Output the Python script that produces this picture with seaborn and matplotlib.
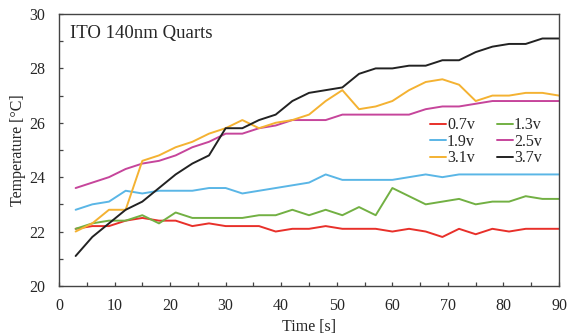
import numpy as np
import pandas as pd
import matplotlib
matplotlib.use("Agg")
import matplotlib.pyplot as plt
from matplotlib.ticker import MultipleLocator
import seaborn as sns

# Sampling times (s)
time_s = list(range(3, 91, 3))

# Temperature (°C) for each applied voltage
t_07 = [22.1, 22.2, 22.2, 22.4, 22.5, 22.4, 22.4, 22.2, 22.3, 22.2,
        22.2, 22.2, 22.0, 22.1, 22.1, 22.2, 22.1, 22.1, 22.1, 22.0,
        22.1, 22.0, 21.8, 22.1, 21.9, 22.1, 22.0, 22.1, 22.1, 22.1]
t_13 = [22.1, 22.3, 22.4, 22.4, 22.6, 22.3, 22.7, 22.5, 22.5, 22.5,
        22.5, 22.6, 22.6, 22.8, 22.6, 22.8, 22.6, 22.9, 22.6, 23.6,
        23.3, 23.0, 23.1, 23.2, 23.0, 23.1, 23.1, 23.3, 23.2, 23.2]
t_19 = [22.8, 23.0, 23.1, 23.5, 23.4, 23.5, 23.5, 23.5, 23.6, 23.6,
        23.4, 23.5, 23.6, 23.7, 23.8, 24.1, 23.9, 23.9, 23.9, 23.9,
        24.0, 24.1, 24.0, 24.1, 24.1, 24.1, 24.1, 24.1, 24.1, 24.1]
t_25 = [23.6, 23.8, 24.0, 24.3, 24.5, 24.6, 24.8, 25.1, 25.3, 25.6,
        25.6, 25.8, 25.9, 26.1, 26.1, 26.1, 26.3, 26.3, 26.3, 26.3,
        26.3, 26.5, 26.6, 26.6, 26.7, 26.8, 26.8, 26.8, 26.8, 26.8]
t_31 = [22.0, 22.3, 22.8, 22.8, 24.6, 24.8, 25.1, 25.3, 25.6, 25.8,
        26.1, 25.8, 26.0, 26.1, 26.3, 26.8, 27.2, 26.5, 26.6, 26.8,
        27.2, 27.5, 27.6, 27.4, 26.8, 27.0, 27.0, 27.1, 27.1, 27.0]
t_37 = [21.1, 21.8, 22.3, 22.8, 23.1, 23.6, 24.1, 24.5, 24.8, 25.8,
        25.8, 26.1, 26.3, 26.8, 27.1, 27.2, 27.3, 27.8, 28.0, 28.0,
        28.1, 28.1, 28.3, 28.3, 28.6, 28.8, 28.9, 28.9, 29.1, 29.1]

voltages = ["0.7v", "1.3v", "1.9v", "2.5v", "3.1v", "3.7v"]
series = [t_07, t_13, t_19, t_25, t_31, t_37]
colors = ["#e8302a", "#72b043", "#5ab6e6", "#c6459b", "#f4b232", "#222222"]

df = pd.DataFrame({
    "Time": np.tile(time_s, len(voltages)),
    "Temperature": np.concatenate(series),
    "Voltage": np.repeat(voltages, len(time_s)),
})

sns.set_theme(style="white")
plt.rcParams["font.family"] = ["Liberation Serif", "DejaVu Serif"]

fig = plt.figure(figsize=(5.67, 3.34), dpi=100)
ax = fig.add_axes([0.104, 0.144, 0.882, 0.814])

sns.lineplot(data=df, x="Time", y="Temperature", hue="Voltage",
             hue_order=voltages, palette=dict(zip(voltages, colors)),
             linewidth=1.4, ax=ax, legend=False)

ax.set_xlim(0, 90)
ax.set_ylim(20, 30)
ax.xaxis.set_major_locator(MultipleLocator(10))
ax.xaxis.set_minor_locator(MultipleLocator(5))
ax.yaxis.set_major_locator(MultipleLocator(2))
ax.yaxis.set_minor_locator(MultipleLocator(1))
ax.tick_params(axis="both", which="both", direction="in", length=3,
               width=0.9, color="#444444", labelsize=11.5,
               bottom=True, left=True, top=False, right=False)
ax.tick_params(axis="x", which="major", pad=9)
ax.tick_params(axis="y", which="major", pad=10)
for sp in ax.spines.values():
    sp.set_color("#444444")
    sp.set_linewidth(1.0)

ax.set_xlabel("Time [s]", fontsize=11.5, labelpad=3)
ax.set_ylabel("Temperature [°C]", fontsize=11.5, labelpad=2)
ax.text(0.022, 0.93, "ITO 140nm Quarts", transform=ax.transAxes,
        fontsize=13.5, va="center", ha="left")

# Legend laid out row by row: 0.7/1.3, 1.9/2.5, 3.1/3.7
lines = ax.get_lines()
order = [0, 2, 4, 1, 3, 5]
leg = ax.legend([lines[i] for i in order], [voltages[i] for i in order],
                ncol=2, loc="center left", bbox_to_anchor=(0.72, 0.53),
                frameon=False, fontsize=11.5, handlelength=1.0,
                handletextpad=0.05, columnspacing=1.4, labelspacing=0.02,
                borderpad=0.2)

fig.savefig("out.png", dpi=100)
